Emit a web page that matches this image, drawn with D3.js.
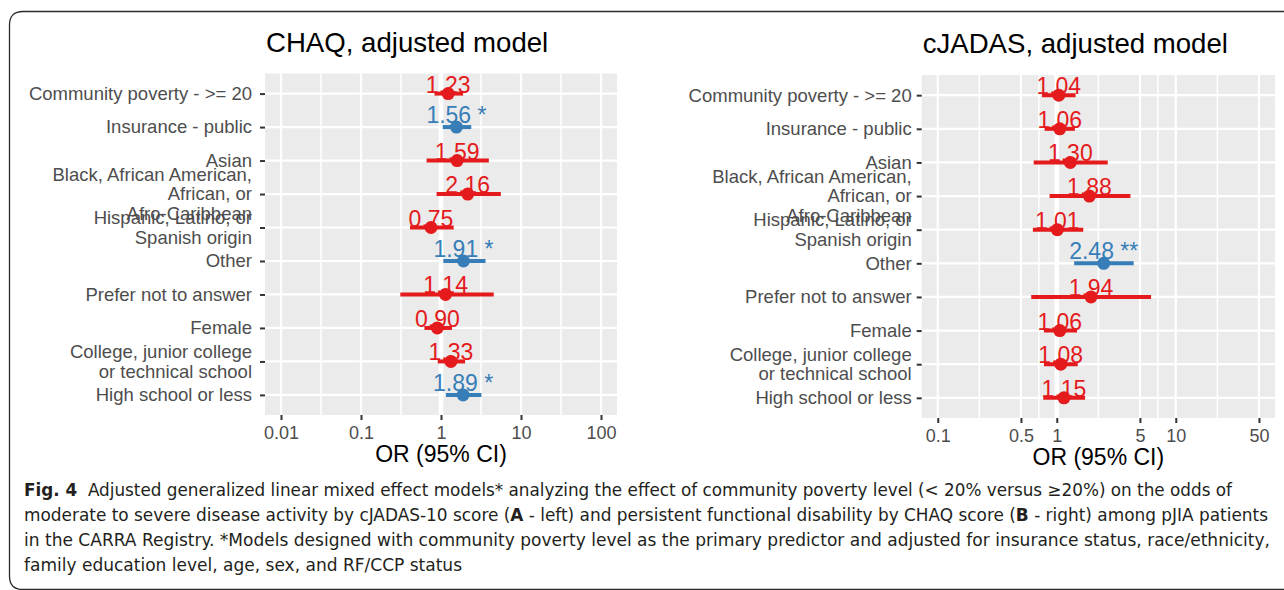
<!DOCTYPE html>
<html>
<head>
<meta charset="utf-8">
<script src="https://cdn.jsdelivr.net/npm/d3@7/dist/d3.min.js"></script>
<style>
  body { margin:0; background:#fff; }
  svg { display:block; }
  .axis text { font-family:"Liberation Sans", Arial, sans-serif; }
</style>
</head>
<body>
<svg id="chart" width="1284" height="590"></svg>
<script>
// rows, top to bottom
var rowLabels = [
  "Community poverty - >= 20",
  "Insurance - public",
  "Asian",
  "Black, African American,\nAfrican, or\nAfro-Caribbean",
  "Hispanic, Latino, or\nSpanish origin",
  "Other",
  "Prefer not to answer",
  "Female",
  "College, junior college\nor technical school",
  "High school or less"
];

// CHAQ panel (left)
var chaqOR  = [1.23, 1.56, 1.59, 2.16, 0.75, 1.91, 1.14, 0.90, 1.33, 1.89];
var chaqLo  = [0.83, 1.05, 0.66, 0.88, 0.41, 1.07, 0.31, 0.62, 0.91, 1.15];
var chaqHi  = [1.89, 2.39, 3.96, 5.60, 1.44, 3.60, 4.56, 1.37, 2.00, 3.20];
var chaqSig = ["", "*", "", "", "", "*", "", "", "", "*"];
var chaqTicks = [0.01, 0.1, 1, 10, 100];
var chaqLimits = [0.01, 100];

// cJADAS panel (right)
var cjadasOR  = [1.04, 1.06, 1.30, 1.88, 1.01, 2.48, 1.94, 1.06, 1.08, 1.15];
var cjadasLo  = [0.75, 0.79, 0.64, 0.87, 0.63, 1.40, 0.61, 0.78, 0.78, 0.77];
var cjadasHi  = [1.44, 1.42, 2.68, 4.16, 1.67, 4.43, 6.20, 1.48, 1.50, 1.73];
var cjadasSig = ["", "", "", "", "", "**", "", "", "", ""];
var cjadasTicks = [0.1, 0.5, 1, 5, 10, 50];
var cjadasLimits = [0.1, 50];

var colRed = "#E41A1C", colBlue = "#377EB8";
var font = '"Liberation Sans", Arial, Helvetica, sans-serif';

var svg = d3.select("#chart");

/* marco redondeado de la figura */
svg.append("path")
  .attr("d", "M1284,11.5 H23 Q9.5,11.5 9.5,25 V576 Q9.5,589.5 23,589.5 H1284")
  .attr("fill", "none")
  .attr("stroke", "#2b2b2b")
  .attr("stroke-width", 1.3);

function panel(opt){
  var lo = Math.log10(opt.limits[0]), hi = Math.log10(opt.limits[1]);
  var pad = 0.05*(hi-lo);
  var x = d3.scaleLog()
    .domain([Math.pow(10, lo-pad), Math.pow(10, hi+pad)])
    .range([opt.left, opt.right]);
  var y = d3.scalePoint()
    .domain(rowLabels)
    .range([opt.top, opt.bottom])
    .padding(0.6);

  var data = rowLabels.map(function(r,i){
    return {row:r, or:opt.or[i], lo:opt.lo[i], hi:opt.hi[i], sig:opt.sig[i]};
  });

  var g = svg.append("g");

  // fondo del panel
  g.append("rect")
    .attr("x", opt.left).attr("y", opt.top)
    .attr("width", opt.right-opt.left).attr("height", opt.bottom-opt.top)
    .attr("fill", "#EBEBEB");

  // minor grid = midpoints (log) between major breaks
  var minors = [];
  for (var i=0;i<opt.ticks.length-1;i++){
    minors.push(Math.sqrt(opt.ticks[i]*opt.ticks[i+1]));
  }
  g.selectAll(".minor").data(minors).enter().append("line")
    .attr("x1", d=>x(d)).attr("x2", d=>x(d))
    .attr("y1", opt.top).attr("y2", opt.bottom)
    .attr("stroke", "#fff").attr("stroke-width", 1.5);
  g.selectAll(".vmajor").data(opt.ticks).enter().append("line")
    .attr("x1", d=>x(d)).attr("x2", d=>x(d))
    .attr("y1", opt.top).attr("y2", opt.bottom)
    .attr("stroke", "#fff").attr("stroke-width", 2.2);
  g.selectAll(".hmajor").data(rowLabels).enter().append("line")
    .attr("x1", opt.left).attr("x2", opt.right)
    .attr("y1", d=>y(d)).attr("y2", d=>y(d))
    .attr("stroke", "#fff").attr("stroke-width", 2.2);
  // reference line at OR = 1
  g.append("line")
    .attr("x1", x(1)).attr("x2", x(1))
    .attr("y1", opt.top).attr("y2", opt.bottom)
    .attr("stroke", "#fff").attr("stroke-width", 4.5);

  var colorOf = d => d.sig ? colBlue : colRed;

  g.selectAll(".ci").data(data).enter().append("line")
    .attr("x1", d=>x(d.lo)).attr("x2", d=>x(d.hi))
    .attr("y1", d=>y(d.row)).attr("y2", d=>y(d.row))
    .attr("stroke", colorOf).attr("stroke-width", 4);
  g.selectAll(".pt").data(data).enter().append("circle")
    .attr("cx", d=>x(d.or)).attr("cy", d=>y(d.row))
    .attr("r", 6.5).attr("fill", colorOf);
  g.selectAll(".lbl").data(data).enter().append("text")
    .attr("x", d=>x(d.or))
    .attr("y", d=>y(d.row) - (d.sig ? 4 : 1))
    .attr("text-anchor", "middle")
    .attr("font-family", font).attr("font-size", 23)
    .attr("fill", colorOf)
    .text(d => d.or.toFixed(2) + (d.sig ? " " + d.sig : ""));

  // x axis
  var xAx = g.append("g").classed("axis", true)
    .attr("transform", "translate(0," + opt.bottom + ")")
    .call(d3.axisBottom(x).tickValues(opt.ticks).tickFormat(d=>String(d)).tickSize(5).tickPadding(6));
  xAx.select(".domain").remove();
  xAx.selectAll("line").attr("stroke", "#333").attr("stroke-width", 2);
  xAx.selectAll("text").attr("fill", "#4D4D4D").attr("font-size", 18);

  // y axis (multi-line labels)
  var yAx = g.append("g").classed("axis", true)
    .attr("transform", "translate(" + opt.left + ",0)")
    .call(d3.axisLeft(y).tickSize(5).tickPadding(opt.ypad));
  yAx.select(".domain").remove();
  yAx.selectAll("line").attr("stroke", "#333").attr("stroke-width", 2);
  yAx.selectAll("text").each(function(d){
    var t = d3.select(this);
    var lines = d.split("\n");
    var tx = t.attr("x");
    t.text(null).attr("dy", null)
      .attr("fill", "#4D4D4D").attr("font-size", 18.5);
    lines.forEach(function(s, k){
      t.append("tspan")
        .attr("x", tx)
        .attr("y", (k - (lines.length-1)/2) * 19.5)
        .attr("dy", "0.32em")
        .text(s);
    });
  });

  // axis title
  g.append("text")
    .attr("x", (opt.left+opt.right)/2).attr("y", opt.bottom + 47)
    .attr("text-anchor", "middle")
    .attr("font-family", font).attr("font-size", 23)
    .attr("fill", "#000")
    .text("OR (95% CI)");

  // titulo del panel
  g.append("text")
    .attr("x", opt.left + 1).attr("y", opt.top - 22)
    .attr("font-family", font).attr("font-size", 27.6)
    .attr("fill", "#000")
    .text(opt.title);
}

panel({title:"CHAQ, adjusted model", left:265, right:617, top:73.5, bottom:415,
       or:chaqOR, lo:chaqLo, hi:chaqHi, sig:chaqSig, ticks:chaqTicks, limits:chaqLimits, ypad:8});
panel({title:"cJADAS, adjusted model", left:921.7, right:1275, top:75, bottom:418,
       or:cjadasOR, lo:cjadasLo, hi:cjadasHi, sig:cjadasSig, ticks:cjadasTicks, limits:cjadasLimits, ypad:5});

/* leyenda de la figura (caption) */
var capFont = '"Liberation Sans Narrow", "DejaVu Sans Condensed", "Liberation Sans", sans-serif';
var caption = [
  [["Fig. 4", true], ["  Adjusted generalized linear mixed effect models* analyzing the effect of community poverty level (< 20% versus \u226520%) on the odds of", false]],
  [["moderate to severe disease activity by cJADAS-10 score (", false], ["A", true], [" - left) and persistent functional disability by CHAQ score (", false], ["B", true], [" - right) among pJIA patients", false]],
  [["in the CARRA Registry. *Models designed with community poverty level as the primary predictor and adjusted for insurance status, race/ethnicity,", false]],
  [["family education level, age, sex, and RF/CCP status", false]]
];
var capWidths = [1208, 1244, 1246, 438];
caption.forEach(function(parts, i){
  var t = svg.append("text")
    .attr("x", 24).attr("y", 496 + i*25)
    .attr("font-family", capFont).attr("font-size", 17)
    .attr("fill", "#231F20")
    .attr("textLength", capWidths[i])
    .attr("lengthAdjust", "spacingAndGlyphs")
    .attr("xml:space", "preserve");
  parts.forEach(function(p){
    t.append("tspan").attr("font-weight", p[1] ? "bold" : null).text(p[0]);
  });
});
</script>
</body>
</html>
